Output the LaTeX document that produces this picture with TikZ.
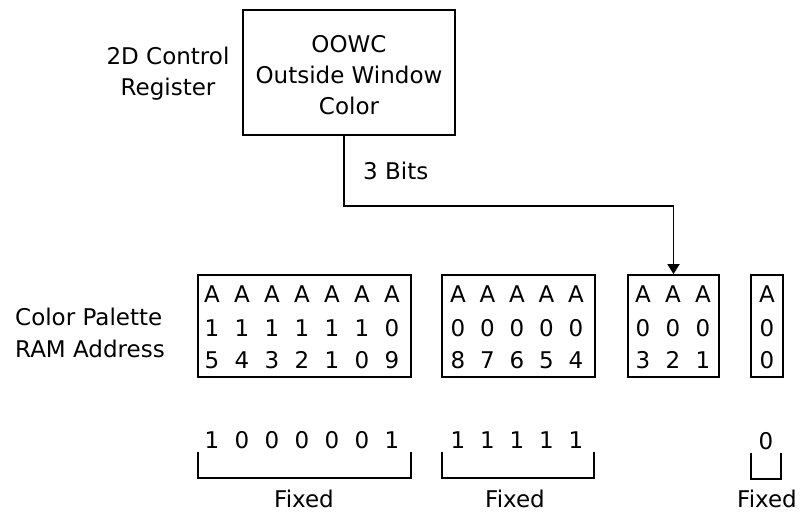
\documentclass[tikz,border=0pt]{standalone}
\usepackage{fontspec}
\setmainfont{DejaVu Sans}
\usetikzlibrary{arrows.meta}
\begin{document}
\begin{tikzpicture}[x=1bp,y=-1bp,
  lbl/.style={inner sep=0pt,font=\fontsize{23bp}{28bp}\selectfont},
  ch/.style={lbl,anchor=base},
  box/.style={draw,line width=1.8bp,rectangle,inner sep=0pt},
  wire/.style={line width=1.8bp},
  brk/.style={line width=1.8bp}]
\useasboundingbox (0,0) rectangle (801,513);
% labels
\node[lbl,anchor=base] (l2d) at (168,65) {2D Control};
\node[lbl,anchor=base] (lreg) at (168,96) {Register};
\node[lbl,anchor=base west] (lcp) at (15,325) {Color Palette};
\node[lbl,anchor=base west] (lram) at (15,357) {RAM Address};
% top box
\node[box,minimum width=212bp,minimum height=125bp] (oowc) at (349,72.5) {};
\node[ch] (t1) at (349,53) {OOWC};
\node[ch] (t2) at (349,84) {Outside Window};
\node[ch] (t3) at (349,115) {Color};
% address boxes
\node[box,minimum width=213bp,minimum height=102bp] (b1) at (304.5,326) {};
\node[box,minimum width=153bp,minimum height=102bp] (b2) at (518.5,326) {};
\node[box,minimum width=91bp,minimum height=102bp] (b3) at (673.5,326) {};
\node[box,minimum width=32bp,minimum height=102bp] (b4) at (767,326) {};
% box 1 contents
\foreach \t [count=\i from 0] in {1,1,1,1,1,1,0} {
  \node[ch] (b1a\i) at (212+30*\i,303) {A};
  \node[ch] (b1b\i) at (212+30*\i,336) {\t};
}
\foreach \t [count=\i from 0] in {5,4,3,2,1,0,9} {
  \node[ch] (b1c\i) at (212+30*\i,368) {\t};
}
% box 2 contents
\foreach \t [count=\i from 0] in {8,7,6,5,4} {
  \node[ch] (b2a\i) at (458+29.5*\i,303) {A};
  \node[ch] (b2b\i) at (458+29.5*\i,336) {0};
  \node[ch] (b2c\i) at (458+29.5*\i,368) {\t};
}
% box 3 contents
\foreach \t [count=\i from 0] in {3,2,1} {
  \node[ch] (b3a\i) at (643+30*\i,303) {A};
  \node[ch] (b3b\i) at (643+30*\i,336) {0};
  \node[ch] (b3c\i) at (643+30*\i,368) {\t};
}
% box 4 contents
\node[ch] (b4a) at (767,303) {A};
\node[ch] (b4b) at (767,336) {0};
\node[ch] (b4c) at (767,368) {0};
% connector
\path (b3.north) ++(0,-68) coordinate (elbow);
\draw[wire,-{Triangle[width=12bp,length=10bp]}] ([xshift=-5bp]oowc.south) |- (elbow) -- (b3.north);
\node[lbl,anchor=base west] (bits) at (363,180) {3 Bits};
% fixed values
\foreach \t [count=\i from 0] in {1,0,0,0,0,0,1} {
  \node[ch] (f1\i) at (212+30*\i,448) {\t};
}
\foreach \i in {0,...,4} {
  \node[ch] (f2\i) at (458+29.5*\i,448) {1};
}
\node[ch] (f3) at (766,449) {0};
% brackets
\draw[brk] (198,452) -- (198,478) -- (411,478) -- (411,452);
\draw[brk] (442,452) -- (442,478) -- (594,478) -- (594,452);
\draw[brk] (751,453) -- (751,479) -- (781,479) -- (781,453);
\node[ch] (fx1) at (304,507) {Fixed};
\node[ch] (fx2) at (515,507) {Fixed};
\node[ch] (fx3) at (767,507) {Fixed};
\end{tikzpicture}
\end{document}
